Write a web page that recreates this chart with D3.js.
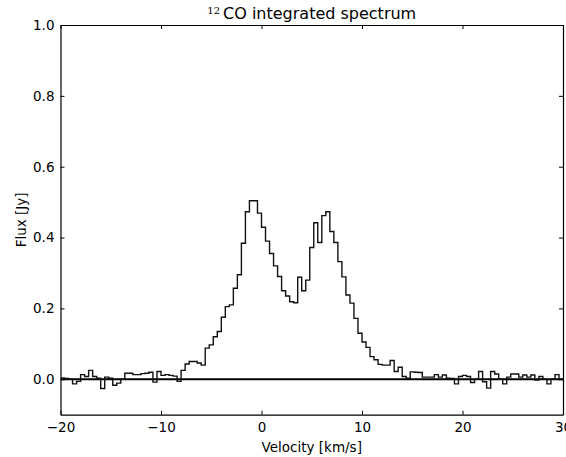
<!DOCTYPE html>
<html>
<head>
<meta charset="utf-8">
<script src="https://cdn.jsdelivr.net/npm/d3@7"></script>
<style>
  body { margin: 0; background: #fff; }
  text { font-family: "DejaVu Sans", sans-serif; fill: #000; }
</style>
</head>
<body>
<div id="chart"></div>
<script>
// Channel grid
var binStart = -20;
var binWidth = 0.4;

// Flux per channel [Jy]
var flux = [
  0.004, 0.002, 0.000, -0.013, -0.006, 0.013, 0.008, 0.025, 0.008, 0.003,
  -0.026, 0.006, 0.003, -0.017, -0.011, 0.000, 0.017, 0.017, 0.013, 0.013,
  0.016, 0.017, 0.020, -0.008, 0.022, 0.011, 0.013, 0.011, 0.009, -0.006,
  0.025, 0.043, 0.050, 0.050, 0.046, 0.040, 0.088, 0.097, 0.120, 0.135,
  0.175, 0.205, 0.210, 0.257, 0.295, 0.384, 0.473, 0.504, 0.504, 0.469,
  0.429, 0.390, 0.355, 0.320, 0.290, 0.250, 0.235, 0.219, 0.216, 0.288,
  0.250, 0.280, 0.372, 0.442, 0.386, 0.462, 0.473, 0.417, 0.386, 0.332,
  0.289, 0.238, 0.215, 0.172, 0.130, 0.105, 0.090, 0.064, 0.055, 0.042,
  0.040, 0.040, 0.053, 0.022, 0.034, 0.008, 0.003, 0.021, 0.020, 0.019,
  0.006, 0.006, 0.006, 0.013, 0.006, 0.012, 0.003, 0.002, -0.013, 0.008,
  0.011, 0.008, -0.009, 0.000, 0.022, -0.007, -0.025, 0.022, 0.015, 0.000,
  -0.013, 0.006, 0.015, 0.015, 0.006, 0.012, 0.006, 0.012, -0.002, 0.008,
  0.000, -0.013, 0.000, 0.013, 0.000
];

var xTicks = [-20, -10, 0, 10, 20, 30];
var yTicks = [0.0, 0.2, 0.4, 0.6, 0.8, 1.0];
var xDomain = [-20, 30];
var yDomain = [-0.1, 1.0];

// Layout
var width = 566;
var height = 457;
var margin = {left: 60.5, right: 3, top: 25, bottom: 42.3};

var svg = d3.select("#chart")
  .append("svg")
  .attr("width", width)
  .attr("height", height);

var x = d3.scaleLinear()
  .domain(xDomain)
  .range([margin.left, width - margin.right]);

var y = d3.scaleLinear()
  .domain(yDomain)
  .range([height - margin.bottom, margin.top]);

// Step points on channel edges
var points = flux.map(function(f, i){
  return [binStart + i*binWidth, f];
});
points.push([binStart + flux.length*binWidth, flux[flux.length-1]]);

var clip = svg.append("clipPath").attr("id", "plotclip")
  .append("rect")
  .attr("x", x(xDomain[0]))
  .attr("y", y(yDomain[1]))
  .attr("width", x(xDomain[1]) - x(xDomain[0]))
  .attr("height", y(yDomain[0]) - y(yDomain[1]));

var plot = svg.append("g").attr("clip-path", "url(#plotclip)");

// Zero line
plot.append("line")
  .attr("x1", x(xDomain[0]))
  .attr("x2", x(xDomain[1]))
  .attr("y1", y(0))
  .attr("y2", y(0))
  .style("stroke", "#000")
  .style("stroke-width", 2);

// Spectrum
var line = d3.line()
  .x(function(d){ return x(d[0]); })
  .y(function(d){ return y(d[1]); })
  .curve(d3.curveStepAfter);

plot.append("path")
  .datum(points)
  .attr("d", line)
  .style("fill", "none")
  .style("stroke", "#111")
  .style("stroke-width", 1.4);

// Axes, ticks pointing inward on all four sides
var tickLen = 4;
svg.append("g")
  .attr("transform", "translate(0," + y(yDomain[0]) + ")")
  .call(d3.axisBottom(x).tickValues(xTicks).tickSizeInner(-tickLen).tickSizeOuter(0)
    .tickPadding(8).tickFormat(d3.format("d")));
svg.append("g")
  .attr("transform", "translate(0," + y(yDomain[1]) + ")")
  .call(d3.axisTop(x).tickValues(xTicks).tickSizeInner(-tickLen).tickSizeOuter(0)
    .tickFormat(""));
svg.append("g")
  .attr("transform", "translate(" + x(xDomain[0]) + ",0)")
  .call(d3.axisLeft(y).tickValues(yTicks).tickSizeInner(-tickLen).tickSizeOuter(0)
    .tickPadding(6).tickFormat(d3.format(".1f")));
svg.append("g")
  .attr("transform", "translate(" + x(xDomain[1]) + ",0)")
  .call(d3.axisRight(y).tickValues(yTicks).tickSizeInner(-tickLen).tickSizeOuter(0)
    .tickFormat(""));

svg.selectAll(".domain").style("stroke", "#000").style("stroke-width", 1.2);
svg.selectAll(".tick line").style("stroke", "#000");
svg.selectAll(".tick text")
  .style("font-family", "DejaVu Sans, sans-serif")
  .style("font-size", "13.5px")
  .style("fill", "#000");

// Labels
svg.append("text")
  .attr("x", (x(xDomain[0]) + x(xDomain[1]))/2)
  .attr("y", 452)
  .attr("text-anchor", "middle")
  .style("font-size", "13.5px")
  .text("Velocity [km/s]");

svg.append("text")
  .attr("transform", "translate(26," + ((y(yDomain[0]) + y(yDomain[1]))/2) + ") rotate(-90)")
  .attr("text-anchor", "middle")
  .style("font-size", "13.5px")
  .text("Flux [Jy]");

var title = svg.append("text")
  .attr("x", (x(xDomain[0]) + x(xDomain[1]))/2)
  .attr("y", 19)
  .attr("text-anchor", "middle")
  .style("font-size", "16px");
title.append("tspan")
  .attr("dy", "-5")
  .style("font-family", "DejaVu Serif, serif")
  .style("font-size", "10px")
  .text("12");
title.append("tspan")
  .attr("dy", "5")
  .attr("dx", "3")
  .text("CO integrated spectrum");
</script>
</body>
</html>
